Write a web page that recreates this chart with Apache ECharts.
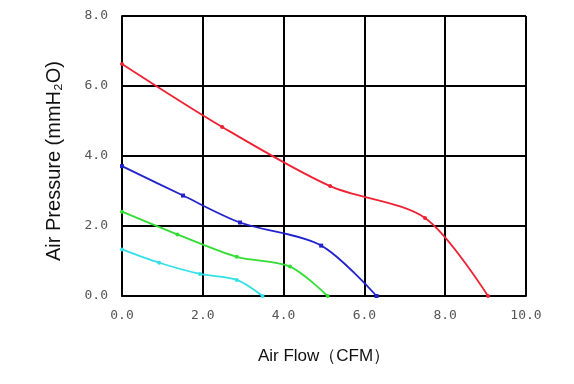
<!DOCTYPE html>
<html><head><meta charset="utf-8">
<script src="https://cdn.jsdelivr.net/npm/echarts@6/dist/echarts.min.js"></script>
<style>html,body{margin:0;padding:0;background:#fff}#c{width:574px;height:384px}</style>
</head><body><div id="c"></div>
<script>
const xTicks = [0, 2, 4, 6, 8, 10];
const yTicks = [0, 2, 4, 6, 8];
const redCurve = [[0, 6.63], [2.48, 4.83], [5.15, 3.14], [7.5, 2.23], [9.06, 0]];
const blueCurve = [[0, 3.71], [1.51, 2.87], [2.92, 2.1], [4.93, 1.44], [6.3, 0]];
const greenCurve = [[0, 2.41], [1.37, 1.76], [2.84, 1.12], [4.16, 0.84], [5.09, 0]];
const cyanCurve = [[0, 1.33], [0.92, 0.95], [1.93, 0.63], [2.84, 0.46], [3.48, 0]];

const chart = echarts.init(document.getElementById('c'));
function ser(data, color, symbol) {
  return { type: 'line', data: data, smooth: 0.3, symbol: symbol, symbolSize: 4,
    lineStyle: { color: color, width: 1.8 }, itemStyle: { color: color }, animation: false };
}
chart.setOption({
  animation: false,
  grid: { left: 122, right: 48, top: 16, bottom: 88 },
  xAxis: {
    type: 'value', min: 0, max: 10, interval: 2,
    name: 'Air Flow（CFM）', nameLocation: 'middle', nameGap: 52,
    nameTextStyle: { fontFamily: 'Liberation Sans', fontSize: 17, color: '#111' },
    axisLine: { show: true, lineStyle: { color: '#000', width: 2 } },
    axisTick: { show: false },
    splitLine: { show: true, lineStyle: { color: '#000', width: 2 } },
    axisLabel: { fontFamily: 'DejaVu Sans Mono', fontSize: 13, color: '#555', margin: 13,
      formatter: v => v.toFixed(1) }
  },
  yAxis: {
    type: 'value', min: 0, max: 8, interval: 2,
    name: 'Air Pressure (mmH₂O)', nameLocation: 'middle', nameGap: 58,
    nameTextStyle: { fontFamily: 'Liberation Sans', fontSize: 20, color: '#111', padding: [0, 10, 0, 0] },
    axisLine: { show: true, lineStyle: { color: '#000', width: 2 } },
    axisTick: { show: false },
    splitLine: { show: true, lineStyle: { color: '#000', width: 2 } },
    axisLabel: { fontFamily: 'DejaVu Sans Mono', fontSize: 13, color: '#555', margin: 14,
      formatter: v => v.toFixed(1) }
  },
  series: [
    ser(redCurve, '#ee2233', 'circle'),
    ser(blueCurve, '#2222cc', 'rect'),
    ser(greenCurve, '#33dd33', 'circle'),
    ser(cyanCurve, '#33e0e8', 'circle')
  ]
});
</script></body></html>
